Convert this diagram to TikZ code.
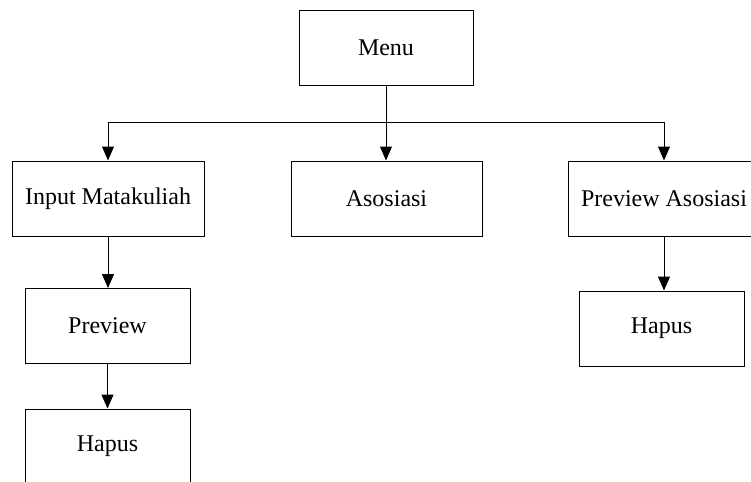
\documentclass[tikz,border=0pt]{standalone}
\usepackage{fontspec}
\setmainfont{Liberation Serif}
\usetikzlibrary{arrows.meta}

\begin{document}
\begin{tikzpicture}[x=0.5pt,y=-0.5pt,
		box/.style={draw, line width=0.5pt, minimum height=37.5pt, font=\fontsize{12}{14}\selectfont},
		arr/.style={line width=0.5pt, -{Triangle[length=7pt,width=6pt]}}]
				\useasboundingbox (0,0) rectangle (751,482);
				\clip (0,0) rectangle (751,482);

				\node[box, minimum width=87pt] (menu) at (386,47.5) {Menu};

				\node[box, minimum width=96pt] (input) at (108,198.5) {Input Matakuliah};
				\node[box, minimum width=95.5pt] (asosiasi) at (386.5,198.5) {Asosiasi};
				\node[box, minimum width=96pt] (prevasos) at (664,198.5) {Preview Asosiasi};

				\node[box, minimum width=82.5pt] (preview) at (107.5,326) {Preview};
				\node[box, minimum width=82.5pt] (hapus1) at (107.5,446.5) {Hapus};
				\node[box, minimum width=82.5pt] (hapus2) at (661.5,328.5) {Hapus};

				\draw[line width=0.5pt] (menu.south) -- (386,122) coordinate (bus);
				\draw[arr] (bus) -| (input.north);
				\draw[arr] (bus) -- (bus |- asosiasi.north);
				\draw[arr] (bus) -| (prevasos.north);

				\draw[arr] (input.south) -- (input.south |- preview.north);
				\draw[arr] (preview.south) -- (hapus1.north);
				\draw[arr] (prevasos.south) -- (prevasos.south |- hapus2.north);
			\end{tikzpicture}
\end{document}
